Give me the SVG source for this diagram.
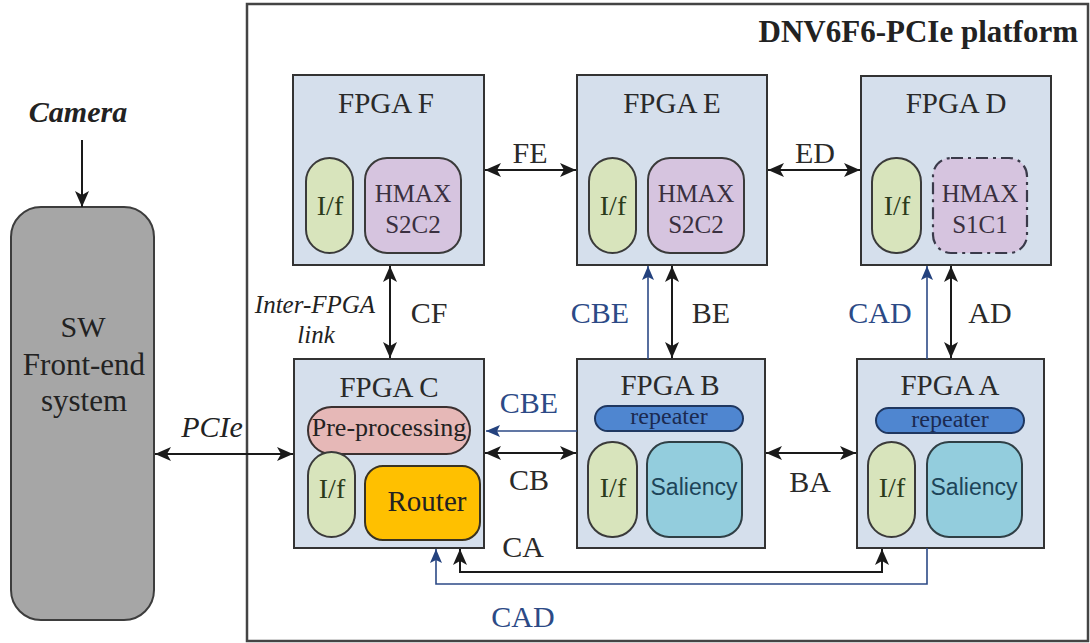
<svg xmlns="http://www.w3.org/2000/svg" width="1090" height="643" viewBox="0 0 1090 643">
  <style>
    text { font-family: "Liberation Serif", "Times New Roman", serif; fill: #222; }
    .fpga { fill: #d5dfec; stroke: #333; stroke-width: 2; }
    .title { font-size: 29px; text-anchor: middle; fill: #2a2a2a; }
    .ifc { fill: #d8e4bc; stroke: #3a3a3a; stroke-width: 2; }
    .ifct { font-size: 28px; text-anchor: middle; fill: #2a3a1a; }
    .hmax { fill: #d6c4df; stroke: #3a3a3a; stroke-width: 2; }
    .hmaxt { font-size: 25px; text-anchor: middle; fill: #3a3040; }
    .rep { fill: #4f86d0; stroke: #1f3760; stroke-width: 2; }
    .rept { font-size: 24px; text-anchor: middle; fill: #1b2a50; }
    .sal { fill: #93cddd; stroke: #2f3f45; stroke-width: 2; }
    .salt { font-family: "Liberation Sans", Arial, sans-serif; font-size: 23px; text-anchor: middle; fill: #1d4458; }
    .lbl { font-size: 30px; fill: #2a2a2a; }
    .blbl { font-size: 30px; fill: #2c4a86; }
    .link { fill: none; stroke: #1a1a1a; stroke-width: 2; }
    .blink { fill: none; stroke: #2c4a86; stroke-width: 1.6; }
  </style>
  <defs>
    <marker id="ah" viewBox="0 0 16 14" refX="16" refY="7" markerWidth="16" markerHeight="14" markerUnits="userSpaceOnUse" orient="auto-start-reverse">
      <path d="M0,0 L16,7 L0,14 L4,7 Z" fill="#1a1a1a"/>
    </marker>
    <marker id="bh" viewBox="0 0 14 12" refX="14" refY="6" markerWidth="14" markerHeight="12" markerUnits="userSpaceOnUse" orient="auto-start-reverse">
      <path d="M0,0 L14,6 L0,12 L3,6 Z" fill="#24427e"/>
    </marker>
  </defs>

  <!-- platform frame -->
  <g id="platform">
    <rect x="247" y="4" width="841" height="637" fill="#ffffff" stroke="#444" stroke-width="2.5"/>
    <text x="1078" y="42" font-size="31" font-weight="bold" text-anchor="end" fill="#1a1a1a">DNV6F6-PCIe platform</text>
  </g>

  <!-- host side -->
  <g id="camera">
    <text x="78" y="122" font-size="30" font-weight="bold" font-style="italic" text-anchor="middle" fill="#1a1a1a">Camera</text>
  </g>
  <g id="sw-frontend">
    <rect x="11" y="207" width="143" height="413" rx="30" fill="#a6a6a6" stroke="#3d3d3d" stroke-width="2"/>
    <text x="83" y="337" font-size="30" text-anchor="middle" fill="#3c3c3c">SW</text>
    <text x="84" y="375" font-size="31" text-anchor="middle" fill="#3c3c3c">Front-end</text>
    <text x="84" y="411" font-size="31" text-anchor="middle" fill="#3c3c3c">system</text>
  </g>

  <!-- top row -->
  <g id="fpga-f">
    <rect class="fpga" x="293" y="75" width="191" height="190"/>
    <text class="title" x="386" y="113">FPGA F</text>
    <rect class="ifc" x="306" y="158" width="47" height="95" rx="23.5"/>
    <text class="ifct" x="330" y="215">I/f</text>
    <rect class="hmax" x="365" y="158" width="96" height="95" rx="22"/>
    <text class="hmaxt" x="413" y="202">HMAX</text>
    <text class="hmaxt" x="413" y="233">S2C2</text>
  </g>
  <g id="fpga-e">
    <rect class="fpga" x="577" y="75" width="190" height="190"/>
    <text class="title" x="672" y="113">FPGA E</text>
    <rect class="ifc" x="589" y="158" width="47" height="95" rx="23.5"/>
    <text class="ifct" x="613" y="215">I/f</text>
    <rect class="hmax" x="648" y="158" width="96" height="95" rx="22"/>
    <text class="hmaxt" x="696" y="202">HMAX</text>
    <text class="hmaxt" x="696" y="233">S2C2</text>
  </g>
  <g id="fpga-d">
    <rect class="fpga" x="861" y="76" width="190" height="189"/>
    <text class="title" x="956" y="113">FPGA D</text>
    <rect class="ifc" x="872" y="158" width="49" height="95" rx="24"/>
    <text class="ifct" x="897" y="215">I/f</text>
    <rect x="933" y="158" width="94" height="95" rx="18" fill="#d6c4df" stroke="#3a3a4a" stroke-width="2.2" stroke-dasharray="12,5,3,5"/>
    <text class="hmaxt" x="980" y="202" fill="#9d90ad">HMAX</text>
    <text class="hmaxt" x="980" y="233" fill="#9d90ad">S1C1</text>
  </g>

  <!-- bottom row -->
  <g id="fpga-c">
    <rect class="fpga" x="294" y="359" width="190" height="189"/>
    <text class="title" x="389" y="397">FPGA C</text>
    <rect x="308" y="407" width="162" height="47" rx="23.5" fill="#e6b8b7" stroke="#3a3030" stroke-width="2"/>
    <text x="389" y="436" font-size="26" text-anchor="middle" fill="#3a2228">Pre-processing</text>
    <rect class="ifc" x="308" y="452" width="47" height="85" rx="23.5"/>
    <text class="ifct" x="332" y="498">I/f</text>
    <rect x="365" y="466" width="115" height="74" rx="18" fill="#ffc000" stroke="#3a3320" stroke-width="2"/>
    <text x="427" y="511" font-family="Liberation Sans, Arial, sans-serif" font-size="29" text-anchor="middle" fill="#3a2a00">Router</text>
  </g>
  <g id="fpga-b">
    <rect class="fpga" x="577" y="359" width="188" height="189"/>
    <text class="title" x="670" y="395">FPGA B</text>
    <rect class="rep" x="595" y="406" width="148" height="25" rx="12.5"/>
    <text class="rept" x="669" y="424">repeater</text>
    <rect class="ifc" x="588" y="442" width="49" height="95" rx="24"/>
    <text class="ifct" x="613" y="497">I/f</text>
    <rect class="sal" x="647" y="442" width="95" height="95" rx="22"/>
    <text class="salt" x="694" y="495">Saliency</text>
  </g>
  <g id="fpga-a">
    <rect class="fpga" x="857" y="359" width="187" height="189"/>
    <text class="title" x="950" y="395">FPGA A</text>
    <rect class="rep" x="876" y="408" width="148" height="25" rx="12.5"/>
    <text class="rept" x="950" y="427">repeater</text>
    <rect class="ifc" x="868" y="442" width="47" height="95" rx="23.5"/>
    <text class="ifct" x="892" y="497">I/f</text>
    <rect class="sal" x="927" y="442" width="95" height="95" rx="22"/>
    <text class="salt" x="974" y="495">Saliency</text>
  </g>

  <!-- connectors -->
  <g id="connectors">
    <line class="link" x1="82" y1="140" x2="82" y2="207" marker-end="url(#ah)"/>
    <line class="link" x1="155" y1="454" x2="293" y2="454" marker-start="url(#ah)" marker-end="url(#ah)"/>
    <line class="link" x1="485" y1="170" x2="576" y2="170" marker-start="url(#ah)" marker-end="url(#ah)"/>
    <line class="link" x1="768" y1="170" x2="860" y2="170" marker-start="url(#ah)" marker-end="url(#ah)"/>
    <line class="link" x1="390" y1="266" x2="390" y2="358" marker-start="url(#ah)" marker-end="url(#ah)"/>
    <line class="link" x1="672" y1="266" x2="672" y2="358" marker-start="url(#ah)" marker-end="url(#ah)"/>
    <line class="link" x1="951" y1="266" x2="951" y2="358" marker-start="url(#ah)" marker-end="url(#ah)"/>
    <line class="link" x1="485" y1="453" x2="576" y2="453" marker-start="url(#ah)" marker-end="url(#ah)"/>
    <line class="link" x1="766" y1="453" x2="856" y2="453" marker-start="url(#ah)" marker-end="url(#ah)"/>
    <polyline class="link" points="460,549 460,572 882,572 882,549" marker-start="url(#ah)" marker-end="url(#ah)"/>
    <line class="blink" x1="648" y1="359" x2="648" y2="266" marker-end="url(#bh)"/>
    <line class="blink" x1="927" y1="359" x2="927" y2="266" marker-end="url(#bh)"/>
    <line class="blink" x1="577" y1="431" x2="486" y2="431" marker-end="url(#bh)"/>
    <polyline class="blink" points="927,548 927,584 436,584 436,549" marker-end="url(#bh)"/>
  </g>

  <!-- link labels -->
  <g id="labels">
    <text x="212" y="437" font-size="30" font-style="italic" text-anchor="middle" fill="#2a2a2a">PCIe</text>
    <text x="315" y="313" font-size="25" font-style="italic" text-anchor="middle" fill="#444">Inter-FPGA</text>
    <text x="316" y="343" font-size="25" font-style="italic" text-anchor="middle" fill="#444">link</text>
    <text class="lbl" x="530" y="163" text-anchor="middle">FE</text>
    <text class="lbl" x="815" y="163" text-anchor="middle">ED</text>
    <text class="lbl" x="429" y="323" text-anchor="middle">CF</text>
    <text class="blbl" x="600" y="323" text-anchor="middle">CBE</text>
    <text class="lbl" x="711" y="323" text-anchor="middle">BE</text>
    <text class="blbl" x="880" y="323" text-anchor="middle">CAD</text>
    <text class="lbl" x="990" y="323" text-anchor="middle">AD</text>
    <text class="blbl" x="529" y="413" text-anchor="middle">CBE</text>
    <text class="lbl" x="529" y="490" text-anchor="middle">CB</text>
    <text class="lbl" x="810" y="492" text-anchor="middle">BA</text>
    <text class="lbl" x="523" y="557" text-anchor="middle">CA</text>
    <text class="blbl" x="523" y="627" text-anchor="middle">CAD</text>
  </g>
</svg>
